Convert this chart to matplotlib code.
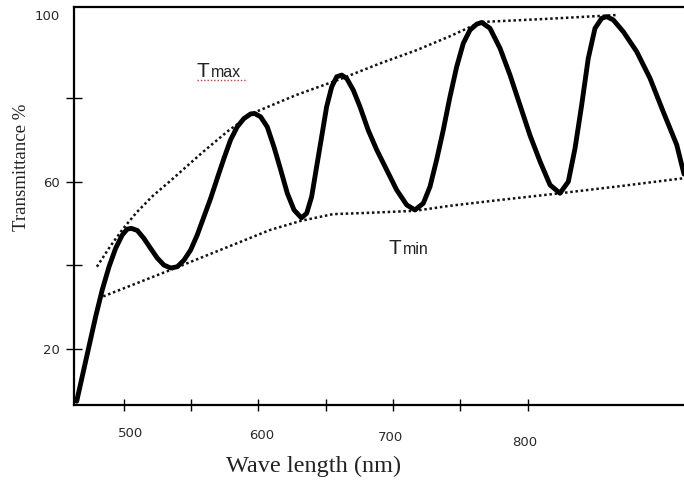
import matplotlib
matplotlib.use("Agg")
import matplotlib.pyplot as plt
from matplotlib.transforms import ScaledTranslation

# ---------------- data ----------------
wl = [465.1, 469.2, 474.2, 479.2, 484.1, 489.1, 494.0, 498.9, 502.6, 505.6,
      510.1, 515.0, 520.0, 524.9, 529.9, 534.9, 539.8, 544.8, 549.7, 554.6,
      559.6, 564.6, 569.5, 574.5, 579.4, 584.3, 589.3, 594.3, 597.3, 601.7,
      606.6, 611.6, 616.6, 621.5, 626.5, 632.0, 635.9, 639.6, 643.3, 647.0,
      650.7, 654.5, 658.2, 661.9, 665.6, 670.5, 675.5, 681.6, 687.9, 695.3,
      702.7, 710.2, 716.3, 722.5, 727.5, 732.4, 737.3, 742.3, 747.3, 752.2,
      757.2, 762.2, 765.9, 772.0, 779.5, 786.9, 794.3, 801.7, 809.2, 816.6,
      824.0, 830.2, 835.2, 840.1, 845.0, 850.0, 855.0, 858.7, 863.6, 871.0,
      881.0, 890.9, 900.7, 910.7, 916.1]
trans = [7.4, 13.3, 20.5, 27.7, 34.1, 39.6, 44.0, 47.2, 48.6, 48.8,
         48.3, 46.4, 44.0, 41.7, 40.0, 39.3, 39.6, 41.2, 43.6, 47.2,
         51.6, 56.0, 60.8, 65.6, 70.0, 73.1, 75.1, 76.2, 76.3, 75.5,
         73.1, 68.3, 62.8, 57.2, 53.2, 51.3, 52.4, 56.4, 63.6, 70.7,
         77.9, 82.7, 85.1, 85.5, 84.7, 81.9, 77.9, 72.3, 67.6, 62.8,
         58.0, 54.4, 53.2, 54.8, 58.8, 65.2, 72.3, 80.3, 87.5, 93.1,
         96.3, 97.7, 98.1, 96.7, 91.9, 85.5, 78.3, 71.1, 64.8, 59.2,
         57.2, 60.0, 68.0, 78.3, 89.5, 96.7, 99.1, 99.5, 98.7, 95.9,
         91.1, 84.7, 76.7, 68.8, 61.8]

tmax_wl = [480.1, 489.8, 499.5, 509.8, 521.7, 534.4, 547.0, 558.9, 577.4,
           596.0, 627.9, 660.6, 688.8, 717.8, 742.3, 765.3, 816.6, 867.1]
tmax_t = [39.6, 44.4, 48.7, 52.7, 56.6, 60.1, 63.7, 67.1, 72.1,
          76.4, 80.7, 84.5, 88.1, 91.5, 94.8, 98.2, 99.0, 99.9]

tmin_wl = [484.8, 536.8, 608.6, 631.7, 655.4, 680.7, 716.3, 742.3, 779.5,
           824.0, 868.6, 915.6]
tmin_t = [32.5, 39.1, 48.4, 50.6, 52.2, 52.5, 53.0, 54.2, 55.6,
          57.2, 58.9, 60.8]

x_ticks = [500, 550, 600, 650, 700, 750, 800]
x_ticklabels = ["500", "", "600", "", "700", "", "800"]
y_ticks = [20, 40, 60, 80, 100]
y_ticklabels = ["20", "", "60", "", "100"]

xlabel = "Wave length (nm)"
ylabel = "Transmittance %"

# ---------------- figure ----------------
W, H = 684, 484
fig = plt.figure(figsize=(W / 100, H / 100), dpi=100)
ax = fig.add_axes([74 / W, 1 - 405 / H, (W - 74) / W, (405 - 7) / H])

ax.plot(wl, trans, color="black", lw=3.5, solid_joinstyle="round",
        solid_capstyle="round", zorder=3)
ax.plot(tmax_wl, tmax_t, color="#111111", lw=1.8, ls=(0, (1, 1.1)), zorder=2)
ax.plot(tmin_wl, tmin_t, color="#111111", lw=1.8, ls=(0, (1, 1.1)), zorder=2)

ax.set_xlim(463.1, 916.1)
ax.set_ylim(6.5, 101.8)

for side in ["left", "bottom", "top"]:
    ax.spines[side].set_linewidth(1.6)
ax.spines["right"].set_visible(False)

ax.set_xticks(x_ticks)
ax.set_xticklabels(x_ticklabels)
ax.set_yticks(y_ticks)
ax.set_yticklabels(y_ticklabels)
ax.tick_params(axis="x", direction="inout", length=8, width=1.0, pad=12,
               labelsize=9.5, labelcolor="#2a2a2a")
ax.tick_params(axis="y", direction="inout", length=12, width=1.0, pad=4,
               labelsize=9.5, labelcolor="#2a2a2a")
ax.yaxis.get_major_ticks()[-1].tick1line.set_visible(False)

# slight individual offsets of x tick labels (points)
x_label_shift = {"500": (5.0, 0.0), "600": (2.5, -1.5), "700": (-1.5, -2.5),
                 "800": (-2.0, -6.0)}
for lab in ax.get_xticklabels():
    s = lab.get_text()
    if s in x_label_shift:
        dx, dy = x_label_shift[s]
        lab.set_transform(lab.get_transform() +
                          ScaledTranslation(dx / 72, dy / 72, fig.dpi_scale_trans))

fig.text(314 / W, 1 - 466 / H, xlabel, family="Liberation Serif",
         fontsize=17.5, color="#222222", ha="center", va="center")
fig.text(22 / W, 1 - 167 / H, ylabel, family="Liberation Serif",
         fontsize=13.5, color="#222222", ha="center", va="center",
         rotation=90)

# envelope labels
def env_label(x, y, sub, underline=False):
    ax.text(x, y, "T", family="Liberation Sans", fontsize=15,
            color="#222222", ha="left", va="baseline")
    ax.annotate(sub, (x, y), xytext=(10.3, 0), textcoords="offset points",
                family="Liberation Sans", fontsize=11.5, color="#222222",
                ha="left", va="baseline")
    if underline:
        ax.plot([x, x + 37], [y - 0.6, y - 0.6], color="#e03030", lw=1.0,
                ls=(0, (1, 1.4)), zorder=2)

env_label(554.4, 85.0, "max", underline=True)
env_label(697.0, 42.7, "min")

fig.savefig("out.png", dpi=100)
